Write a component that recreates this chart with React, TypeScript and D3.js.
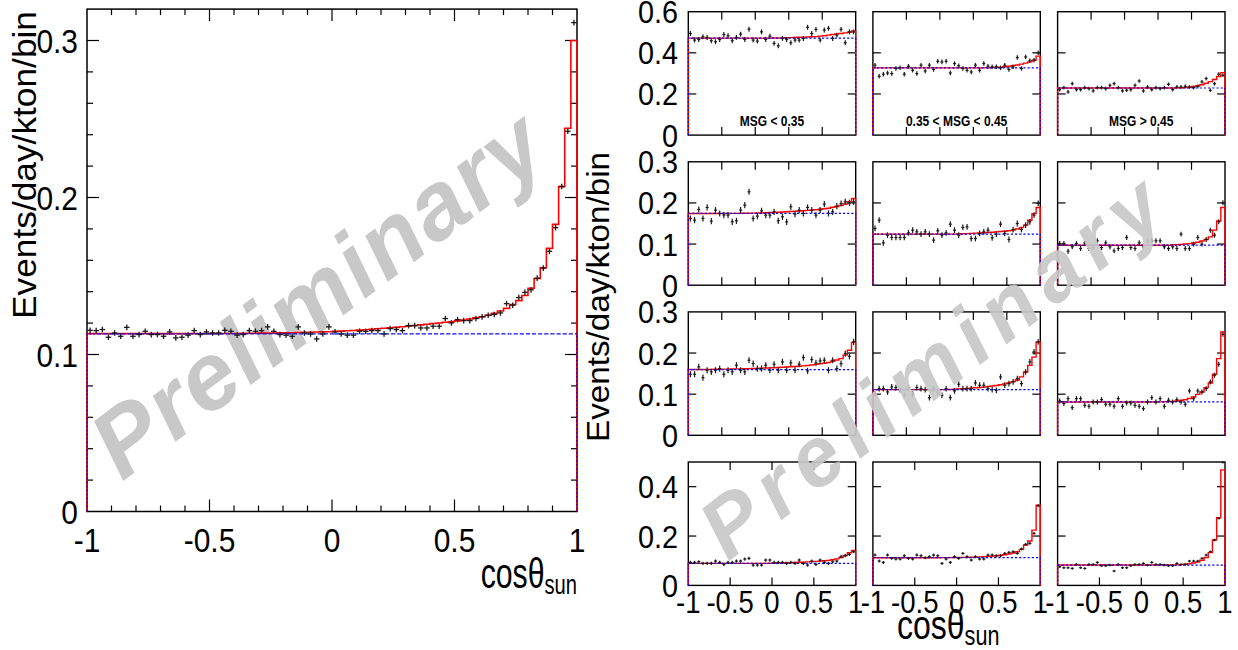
import React from 'react';
import * as d3 from 'd3';

// ---------- Main plot (80 bins, cos theta_sun from -1 to 1) ----------
const mainData = [
  0.1154, 0.1152, 0.1159, 0.1110, 0.1137, 0.1116, 0.1173, 0.1116, 0.1127, 0.1148,
  0.1127, 0.1127, 0.1116, 0.1144, 0.1106, 0.1110, 0.1123, 0.1152, 0.1127, 0.1144,
  0.1137, 0.1137, 0.1154, 0.1148, 0.1123, 0.1127, 0.1152, 0.1148, 0.1152, 0.1176,
  0.1148, 0.1127, 0.1123, 0.1116, 0.1176, 0.1137, 0.1131, 0.1099, 0.1131, 0.1176,
  0.1144, 0.1131, 0.1123, 0.1123, 0.1148, 0.1148, 0.1152, 0.1152, 0.1131, 0.1165,
  0.1159, 0.1152, 0.1184, 0.1184, 0.1169, 0.1169, 0.1180, 0.1180, 0.1229, 0.1201,
  0.1222, 0.1216, 0.1216, 0.1229, 0.1240, 0.1250, 0.1255, 0.1265, 0.1324, 0.1314,
  0.1363, 0.1396, 0.1412, 0.1486, 0.1550, 0.1657, 0.1808, 0.2070, 0.2422, 0.3114,
];
const mainFit = [
  0.1133, 0.1133, 0.1133, 0.1133, 0.1133, 0.1133, 0.1133, 0.1133, 0.1133, 0.1133,
  0.1133, 0.1133, 0.1133, 0.1133, 0.1133, 0.1133, 0.1133, 0.1133, 0.1133, 0.1133,
  0.1133, 0.1133, 0.1134, 0.1134, 0.1134, 0.1135, 0.1135, 0.1135, 0.1136, 0.1136,
  0.1137, 0.1138, 0.1138, 0.1139, 0.1140, 0.1141, 0.1142, 0.1143, 0.1144, 0.1145,
  0.1147, 0.1149, 0.1151, 0.1153, 0.1155, 0.1158, 0.1161, 0.1164, 0.1167, 0.1170,
  0.1173, 0.1177, 0.1181, 0.1185, 0.1189, 0.1193, 0.1197, 0.1201, 0.1205, 0.1209,
  0.1214, 0.1220, 0.1226, 0.1233, 0.1240, 0.1250, 0.1262, 0.1277, 0.1294, 0.1318,
  0.1343, 0.1376, 0.1422, 0.1484, 0.1553, 0.1676, 0.1829, 0.2069, 0.2441, 0.3000,
];
const mainBackground = 0.1131;
const mainYTicks = [0, 0.1, 0.2, 0.3];
const mainXTicks = [-1, -0.5, 0, 0.5, 1];
const mainXTickLabels = ['-1', '-0.5', '0', '0.5', '1'];
const mainYTickLabels = ['0', '0.1', '0.2', '0.3'];

// ---------- 4 x 3 panels (40 bins each) ----------
const p11Data = [0.494, 0.462, 0.465, 0.478, 0.475, 0.459, 0.454, 0.465, 0.489, 0.483, 0.459, 0.475, 0.491, 0.465, 0.515, 0.462, 0.457, 0.502, 0.465, 0.481, 0.446, 0.434, 0.470, 0.465, 0.449, 0.462, 0.462, 0.470, 0.524, 0.494, 0.514, 0.462, 0.511, 0.519, 0.470, 0.486, 0.514, 0.449, 0.502, 0.502];
const p11Fit = [0.4715, 0.4715, 0.4715, 0.4715, 0.4715, 0.4715, 0.4715, 0.4715, 0.4715, 0.4715, 0.4715, 0.4715, 0.4715, 0.4715, 0.4715, 0.4715, 0.4715, 0.4715, 0.4715, 0.4715, 0.4718, 0.4722, 0.4727, 0.4733, 0.4740, 0.4748, 0.4756, 0.4764, 0.4772, 0.4780, 0.479, 0.481, 0.483, 0.486, 0.489, 0.492, 0.494, 0.497, 0.500, 0.507];
const p12Data = [0.340, 0.286, 0.296, 0.302, 0.299, 0.324, 0.328, 0.296, 0.335, 0.315, 0.299, 0.340, 0.312, 0.340, 0.319, 0.359, 0.356, 0.359, 0.302, 0.348, 0.337, 0.324, 0.315, 0.307, 0.340, 0.315, 0.348, 0.335, 0.332, 0.332, 0.327, 0.340, 0.319, 0.332, 0.377, 0.324, 0.380, 0.361, 0.364, 0.400];
const p12Fit = [0.327, 0.327, 0.327, 0.327, 0.327, 0.327, 0.327, 0.327, 0.327, 0.327, 0.327, 0.327, 0.327, 0.327, 0.327, 0.327, 0.327, 0.327, 0.327, 0.327, 0.327, 0.327, 0.327, 0.327, 0.327, 0.327, 0.327, 0.327, 0.328, 0.329, 0.330, 0.332, 0.335, 0.338, 0.341, 0.345, 0.350, 0.356, 0.364, 0.384];
const p13Data = [0.221, 0.231, 0.210, 0.250, 0.221, 0.221, 0.231, 0.226, 0.215, 0.231, 0.231, 0.226, 0.242, 0.250, 0.231, 0.215, 0.218, 0.221, 0.242, 0.263, 0.215, 0.234, 0.221, 0.231, 0.226, 0.231, 0.247, 0.221, 0.234, 0.234, 0.237, 0.234, 0.231, 0.237, 0.259, 0.275, 0.218, 0.250, 0.296, 0.291];
const p13Fit = [0.229, 0.229, 0.229, 0.229, 0.229, 0.229, 0.229, 0.229, 0.229, 0.229, 0.229, 0.229, 0.229, 0.229, 0.229, 0.229, 0.229, 0.229, 0.229, 0.229, 0.229, 0.229, 0.229, 0.229, 0.229, 0.229, 0.229, 0.229, 0.2295, 0.230, 0.231, 0.233, 0.236, 0.240, 0.245, 0.252, 0.260, 0.270, 0.285, 0.304];

const p21Data = [0.1622, 0.1582, 0.1841, 0.1622, 0.1890, 0.1557, 0.1825, 0.1744, 0.1703, 0.1703, 0.1541, 0.1565, 0.1825, 0.1946, 0.2271, 0.1622, 0.1679, 0.1809, 0.1703, 0.1703, 0.1784, 0.1565, 0.1663, 0.1541, 0.1906, 0.1727, 0.1825, 0.1744, 0.1890, 0.1825, 0.1703, 0.1825, 0.1971, 0.1744, 0.1784, 0.1922, 0.1987, 0.2028, 0.2003, 0.2028];
const p21Fit = [0.1744, 0.1744, 0.1744, 0.1744, 0.1744, 0.1744, 0.1744, 0.1744, 0.1744, 0.1744, 0.1745, 0.1746, 0.1747, 0.1749, 0.1751, 0.1753, 0.1756, 0.1759, 0.1762, 0.1766, 0.1770, 0.1774, 0.1779, 0.1784, 0.1790, 0.1796, 0.1803, 0.1810, 0.1818, 0.1826, 0.1835, 0.1845, 0.1857, 0.1870, 0.1895, 0.1915, 0.1940, 0.1975, 0.2030, 0.2109];
const p22Data = [0.1379, 0.1582, 0.1030, 0.1217, 0.1160, 0.1160, 0.1160, 0.1160, 0.1273, 0.1338, 0.1298, 0.1241, 0.1298, 0.1241, 0.1095, 0.1322, 0.1217, 0.1273, 0.1484, 0.1338, 0.1217, 0.1403, 0.1419, 0.1135, 0.1135, 0.1257, 0.1298, 0.1338, 0.1152, 0.1241, 0.1484, 0.1257, 0.1111, 0.1354, 0.1500, 0.1354, 0.1460, 0.1541, 0.1703, 0.1987];
const p22Fit = [0.1241, 0.1241, 0.1241, 0.1241, 0.1241, 0.1241, 0.1241, 0.1241, 0.1241, 0.1241, 0.1241, 0.1241, 0.1241, 0.1241, 0.1241, 0.1241, 0.1241, 0.1241, 0.1241, 0.1241, 0.1245, 0.1250, 0.1255, 0.1260, 0.1265, 0.1270, 0.1276, 0.1282, 0.1289, 0.1296, 0.1304, 0.1313, 0.1323, 0.1340, 0.1365, 0.1400, 0.1460, 0.1580, 0.1740, 0.1890];
const p23Data = [0.1014, 0.1014, 0.0827, 0.0933, 0.1014, 0.0892, 0.1030, 0.0892, 0.0916, 0.1079, 0.0916, 0.1030, 0.0933, 0.0835, 0.0892, 0.0916, 0.1160, 0.0916, 0.0892, 0.1030, 0.0933, 0.1079, 0.1079, 0.1079, 0.1079, 0.0933, 0.0892, 0.0933, 0.0892, 0.1241, 0.0892, 0.0892, 0.0998, 0.1160, 0.0998, 0.1111, 0.1338, 0.1217, 0.1541, 0.2003];
const p23Fit = [0.0973, 0.0973, 0.0973, 0.0973, 0.0973, 0.0973, 0.0973, 0.0973, 0.0973, 0.0973, 0.0973, 0.0973, 0.0973, 0.0973, 0.0973, 0.0973, 0.0973, 0.0973, 0.0973, 0.0973, 0.0973, 0.0973, 0.0973, 0.0973, 0.0973, 0.0973, 0.0973, 0.0980, 0.0985, 0.0990, 0.1000, 0.1010, 0.1025, 0.1045, 0.1075, 0.1110, 0.1175, 0.1340, 0.1560, 0.1890];

const p31Data = [0.1484, 0.1484, 0.1663, 0.1403, 0.1582, 0.1541, 0.1582, 0.1622, 0.1484, 0.1582, 0.1541, 0.1703, 0.1582, 0.1541, 0.1825, 0.1744, 0.1622, 0.1622, 0.1703, 0.1582, 0.1727, 0.1582, 0.1784, 0.1582, 0.1760, 0.1582, 0.1727, 0.1890, 0.1565, 0.1841, 0.1760, 0.1809, 0.1825, 0.1582, 0.1825, 0.1622, 0.1744, 0.1987, 0.1922, 0.2271];
const p31Fit = [0.1598, 0.1599, 0.1600, 0.1601, 0.1602, 0.1603, 0.1604, 0.1606, 0.1608, 0.1610, 0.1612, 0.1614, 0.1616, 0.1619, 0.1622, 0.1625, 0.1628, 0.1632, 0.1636, 0.1640, 0.1644, 0.1649, 0.1654, 0.1659, 0.1665, 0.1671, 0.1678, 0.1688, 0.1698, 0.1710, 0.1725, 0.1738, 0.1752, 0.1770, 0.1800, 0.1830, 0.1865, 0.1950, 0.2068, 0.2260];
const p32Data = [0.0998, 0.1135, 0.1135, 0.1054, 0.1176, 0.1160, 0.1111, 0.0973, 0.1160, 0.0998, 0.1160, 0.1135, 0.1111, 0.0916, 0.1135, 0.1030, 0.0973, 0.1135, 0.0916, 0.1079, 0.1241, 0.1135, 0.1135, 0.1135, 0.1273, 0.1217, 0.1217, 0.1135, 0.1111, 0.1095, 0.1419, 0.1217, 0.1257, 0.1298, 0.1379, 0.1257, 0.1541, 0.1784, 0.2028, 0.2271];
const p32Fit = [0.1111, 0.1111, 0.1111, 0.1111, 0.1111, 0.1111, 0.1111, 0.1111, 0.1111, 0.1111, 0.1111, 0.1111, 0.1111, 0.1111, 0.1111, 0.1111, 0.1111, 0.1111, 0.1115, 0.1120, 0.1125, 0.1132, 0.1140, 0.1147, 0.1155, 0.1163, 0.1172, 0.1183, 0.1197, 0.1212, 0.1230, 0.1250, 0.1275, 0.1305, 0.1345, 0.1420, 0.1540, 0.1700, 0.1900, 0.2270];
const p33Data = [0.0835, 0.0771, 0.0892, 0.0673, 0.0892, 0.0892, 0.0730, 0.0706, 0.0811, 0.0811, 0.0868, 0.0754, 0.0754, 0.0706, 0.0892, 0.0706, 0.0787, 0.0787, 0.0730, 0.0706, 0.0649, 0.0811, 0.0916, 0.0811, 0.0892, 0.0706, 0.0852, 0.0811, 0.0868, 0.0811, 0.0754, 0.1079, 0.0892, 0.1079, 0.1054, 0.1135, 0.1298, 0.1460, 0.1727, 0.2457];
const p33Fit = [0.0811, 0.0811, 0.0811, 0.0811, 0.0811, 0.0811, 0.0811, 0.0811, 0.0811, 0.0811, 0.0811, 0.0811, 0.0811, 0.0811, 0.0811, 0.0811, 0.0811, 0.0811, 0.0811, 0.0811, 0.0811, 0.0811, 0.0811, 0.0811, 0.0812, 0.0814, 0.0818, 0.0825, 0.0835, 0.0848, 0.0865, 0.0895, 0.0930, 0.0995, 0.1054, 0.1160, 0.1273, 0.1484, 0.1865, 0.2514];

const p41Data = [0.0932, 0.0932, 0.0959, 0.0892, 0.0892, 0.0892, 0.0986, 0.0932, 0.0851, 0.0932, 0.0932, 0.0986, 0.0986, 0.1068, 0.1095, 0.0824, 0.0824, 0.0824, 0.1027, 0.1027, 0.0932, 0.0932, 0.0932, 0.0892, 0.0932, 0.0892, 0.1027, 0.0892, 0.0824, 0.0986, 0.0851, 0.1027, 0.0932, 0.0892, 0.0959, 0.0986, 0.1162, 0.1203, 0.1257, 0.1365];
const p41Fit = [0.0892, 0.0892, 0.0892, 0.0892, 0.0892, 0.0892, 0.0892, 0.0892, 0.0892, 0.0892, 0.0892, 0.0892, 0.0892, 0.0892, 0.0892, 0.0892, 0.0892, 0.0892, 0.0894, 0.0897, 0.0900, 0.0905, 0.0910, 0.0916, 0.0922, 0.0930, 0.0937, 0.0945, 0.0953, 0.0962, 0.0972, 0.0984, 0.0998, 0.1015, 0.1040, 0.1075, 0.1130, 0.1210, 0.1320, 0.1420];
const p42Data = [0.1230, 0.0986, 0.0932, 0.1230, 0.1095, 0.1068, 0.1068, 0.1203, 0.1095, 0.1068, 0.1230, 0.1203, 0.1122, 0.1162, 0.1230, 0.1203, 0.0892, 0.1068, 0.0932, 0.1162, 0.1095, 0.1297, 0.1162, 0.1027, 0.1162, 0.1068, 0.1068, 0.1230, 0.1230, 0.1203, 0.1203, 0.1297, 0.1338, 0.1365, 0.1297, 0.1473, 0.1662, 0.1703, 0.2108, 0.3230];
const p42Fit = [0.1122, 0.1122, 0.1122, 0.1122, 0.1122, 0.1122, 0.1122, 0.1122, 0.1122, 0.1122, 0.1122, 0.1122, 0.1122, 0.1122, 0.1122, 0.1123, 0.1124, 0.1125, 0.1127, 0.1129, 0.1131, 0.1134, 0.1137, 0.1141, 0.1145, 0.1155, 0.1165, 0.1175, 0.1188, 0.1203, 0.1220, 0.1243, 0.1270, 0.1310, 0.1365, 0.1460, 0.1635, 0.1800, 0.2240, 0.3250];
const p43Data = [0.0757, 0.0716, 0.0716, 0.0689, 0.0851, 0.0716, 0.0689, 0.0851, 0.0851, 0.0932, 0.0797, 0.0797, 0.0824, 0.0581, 0.0851, 0.0716, 0.0716, 0.0797, 0.0851, 0.0851, 0.0892, 0.0824, 0.0932, 0.0851, 0.0851, 0.0824, 0.0797, 0.0797, 0.0892, 0.0851, 0.0851, 0.0986, 0.0986, 0.0986, 0.1095, 0.1230, 0.1365, 0.1838, 0.2716, 0.4986];
const p43Fit = [0.0824, 0.0824, 0.0824, 0.0824, 0.0824, 0.0824, 0.0824, 0.0824, 0.0824, 0.0824, 0.0824, 0.0824, 0.0824, 0.0824, 0.0824, 0.0824, 0.0824, 0.0824, 0.0824, 0.0824, 0.0824, 0.0824, 0.0824, 0.0824, 0.0824, 0.0824, 0.0824, 0.0824, 0.0832, 0.0842, 0.0856, 0.0876, 0.0905, 0.0950, 0.1020, 0.1130, 0.1330, 0.1840, 0.2740, 0.4680];

const panelBackgrounds = [
  [0.4715, 0.327, 0.229],
  [0.1744, 0.1241, 0.0973],
  [0.1598, 0.1111, 0.0811],
  [0.0892, 0.1122, 0.0824],
];
const panelErrors = [
  [0.012, 0.011, 0.009],
  [0.0075, 0.007, 0.006],
  [0.0075, 0.007, 0.006],
  [0.0065, 0.006, 0.005],
];
const rowYMax = [0.6, 0.3, 0.3, 0.5];
const rowYTicks = [[0.2, 0.4], [0.1, 0.2], [0.1, 0.2], [0.2, 0.4]];
const rowYTickLabels = [
  [[0, '0'], [0.2, '0.2'], [0.4, '0.4'], [0.6, '0.6']],
  [[0, '0'], [0.1, '0.1'], [0.2, '0.2'], [0.3, '0.3']],
  [[0, '0'], [0.1, '0.1'], [0.2, '0.2'], [0.3, '0.3']],
  [[0, '0'], [0.2, '0.2'], [0.4, '0.4']],
];
const upperXTicks = [-0.6, -0.2, 0.2, 0.6];
const lowerXTicks = [-0.5, 0, 0.5];
const panelXTickLabels = ['-1', '-0.5', '0', '0.5', '1'];
const panelXTickValues = [-1, -0.5, 0, 0.5, 1];
const msgLabels = ['MSG < 0.35', '0.35 < MSG < 0.45', 'MSG > 0.45'];

const panelGrid = [
  [[p11Data, p11Fit], [p12Data, p12Fit], [p13Data, p13Fit]],
  [[p21Data, p21Fit], [p22Data, p22Fit], [p23Data, p23Fit]],
  [[p31Data, p31Fit], [p32Data, p32Fit], [p33Data, p33Fit]],
  [[p41Data, p41Fit], [p42Data, p42Fit], [p43Data, p43Fit]],
];

// ---------- layout ----------
const FONT = "'Liberation Sans', Arial, Helvetica, sans-serif";
const MAIN = { x0: 87, x1: 577, y0: 9.1, y1: 511.5, yMax: 0.32 };
const COL_X = [688.3, 872.9, 1057.6];
const PANEL_W = 167.4;
const ROW_Y = [11.7, 161.8, 311.9, 462.0];
const PANEL_H = 123.4;

function SText(props: any) {
  const { x, y, size, anchor = 'start', weight = 'normal', children, sx = 0.88 } = props;
  return (
    <text transform={`translate(${x},${y}) scale(${sx},1)`} fontSize={size} textAnchor={anchor}
      fontFamily={FONT} fontWeight={weight} fill="#000">{children}</text>
  );
}

function histPath(values: number[], xs: any, ys: any) {
  const n = values.length;
  const edges = d3.range(n + 1).map((i) => -1 + (2 * i) / n);
  let d = `M${xs(-1)},${ys(0)}`;
  values.forEach((v, i) => {
    d += `L${xs(edges[i])},${ys(v)}L${xs(edges[i + 1])},${ys(v)}`;
  });
  d += `L${xs(1)},${ys(0)}`;
  return d;
}

function Hist(props: any) {
  const { x0, x1, y0, y1, yMax, data, fit, bkg, err, errX, fitWidth, crossWidth } = props;
  const xs = d3.scaleLinear().domain([-1, 1]).range([x0, x1]);
  const ys = d3.scaleLinear().domain([0, yMax]).range([y1, y0]);
  const n = data.length;
  const bw = 2 / n;
  const hw = errX * (xs(bw) - xs(0));
  const bkgVals = data.map(() => bkg);
  return (
    <g>
      <path d={histPath(fit, xs, ys)} fill="none" stroke="#ff0000" strokeWidth={fitWidth} />
      <path d={histPath(bkgVals, xs, ys)} fill="none" stroke="#0000ff" strokeWidth={1.2} strokeDasharray="2,2" />
      <g stroke="#1a1a1a" strokeWidth={crossWidth}>
        {data.map((v: number, i: number) => {
          const c = xs(-1 + (i + 0.5) * bw);
          const yt = Math.max(ys(v + err), y0);
          const yb = Math.min(ys(v - err), y1);
          return (
            <g key={i}>
              <line x1={c - hw} x2={c + hw} y1={ys(v)} y2={ys(v)} />
              <line x1={c} x2={c} y1={yt} y2={yb} />
            </g>
          );
        })}
      </g>
    </g>
  );
}

function MainPlot() {
  const { x0, x1, y0, y1, yMax } = MAIN;
  const xs = d3.scaleLinear().domain([-1, 1]).range([x0, x1]);
  const ys = d3.scaleLinear().domain([0, yMax]).range([y1, y0]);
  const xMinor = d3.range(-0.9, 1.0, 0.1).map((v) => Math.round(v * 10) / 10);
  const yMinor = d3.range(0.02, 0.32, 0.02).map((v) => Math.round(v * 100) / 100);
  return (
    <g>
      <rect x={x0} y={y0} width={x1 - x0} height={y1 - y0} fill="none" stroke="#000" strokeWidth={1.5} />
      <g stroke="#000" strokeWidth={1.2}>
        {xMinor.map((v) => {
          const major = Math.abs(v * 2 - Math.round(v * 2)) < 1e-6;
          const L = major ? 12 : 6;
          return (
            <g key={'x' + v}>
              <line x1={xs(v)} x2={xs(v)} y1={y1} y2={y1 - L} />
              <line x1={xs(v)} x2={xs(v)} y1={y0} y2={y0 + L} />
            </g>
          );
        })}
        {yMinor.map((v) => {
          const major = Math.abs(v * 10 - Math.round(v * 10)) < 1e-6;
          const L = major ? 12 : 6;
          return (
            <g key={'y' + v}>
              <line x1={x0} x2={x0 + L} y1={ys(v)} y2={ys(v)} />
              <line x1={x1} x2={x1 - L} y1={ys(v)} y2={ys(v)} />
            </g>
          );
        })}
      </g>
      <text transform={`translate(122,482) rotate(-37)`} fontSize={95} fontStyle="italic" fontWeight="bold"
        fontFamily={FONT} fill="#c8c8c8" textLength={538} lengthAdjust="spacing">Preliminary</text>
      <Hist x0={x0} x1={x1} y0={y0} y1={y1} yMax={yMax} data={mainData} fit={mainFit}
        bkg={mainBackground} err={0.0018} errX={0.45} fitWidth={1.6} crossWidth={1.3} />
      {mainYTicks.map((v, i) => (
        <SText key={'yl' + i} x={78} y={ys(v) + 12} size={34} anchor="end">{mainYTickLabels[i]}</SText>
      ))}
      {mainXTicks.map((v, i) => (
        <SText key={'xl' + i} x={xs(v)} y={552} size={34} anchor="middle">{mainXTickLabels[i]}</SText>
      ))}
      <text transform="translate(36,11) rotate(-90) scale(1,0.9)" fontSize={36} textAnchor="end"
        fontFamily={FONT} textLength={308} lengthAdjust="spacingAndGlyphs">Events/day/kton/bin</text>
      <SText x={577} y={588} size={42} anchor="end" sx={0.72}>
        cosθ<tspan fontSize={28} dy={6}>sun</tspan>
      </SText>
    </g>
  );
}

function Panels() {
  return (
    <g>
      {panelGrid.map((row, r) =>
        row.map(([data, fit], c) => {
          const x0 = COL_X[c];
          const x1 = x0 + PANEL_W;
          const y0 = ROW_Y[r];
          const y1 = y0 + PANEL_H;
          const yMax = rowYMax[r];
          const xs = d3.scaleLinear().domain([-1, 1]).range([x0, x1]);
          const ys = d3.scaleLinear().domain([0, yMax]).range([y1, y0]);
          const xt = r === 3 ? lowerXTicks : upperXTicks;
          return (
            <g key={`p${r}${c}`}>
              <rect x={x0} y={y0} width={PANEL_W} height={PANEL_H} fill="none" stroke="#000" strokeWidth={1.4} />
              <g stroke="#000" strokeWidth={1.2}>
                {xt.map((v) => (
                  <g key={'x' + v}>
                    <line x1={xs(v)} x2={xs(v)} y1={y1} y2={y1 - 8} />
                    <line x1={xs(v)} x2={xs(v)} y1={y0} y2={y0 + 8} />
                  </g>
                ))}
                {rowYTicks[r].map((v) => (
                  <g key={'y' + v}>
                    <line x1={x0} x2={x0 + 8} y1={ys(v)} y2={ys(v)} />
                    <line x1={x1} x2={x1 - 8} y1={ys(v)} y2={ys(v)} />
                  </g>
                ))}
              </g>
              <Hist x0={x0} x1={x1} y0={y0} y1={y1} yMax={yMax} data={data} fit={fit}
                bkg={panelBackgrounds[r][c]} err={panelErrors[r][c]} errX={0.36} fitWidth={1.4} crossWidth={1.2} />
              {r === 0 && (
                <SText x={(x0 + x1) / 2} y={126} size={15} anchor="middle" weight="bold" sx={0.8}>{msgLabels[c]}</SText>
              )}
              {c === 0 && rowYTickLabels[r].map(([v, lab]: any, i: number) => (
                <SText key={'yl' + i} x={678} y={ys(v) + 11.5} size={32} anchor="end" sx={0.9}>{lab}</SText>
              ))}
              {r === 3 && panelXTickValues.map((v, i) => (
                <SText key={'xl' + i} x={xs(v)} y={613} size={32} anchor="middle" sx={0.86}>{panelXTickLabels[i]}</SText>
              ))}
            </g>
          );
        })
      )}
      <text transform="translate(609,297) rotate(-90) scale(1,0.92)" fontSize={34} textAnchor="middle"
        fontFamily={FONT} textLength={290} lengthAdjust="spacingAndGlyphs">Events/day/kton/bin</text>
      <SText x={897} y={639} size={40} sx={0.8}>
        cosθ<tspan fontSize={27} dy={6}>sun</tspan>
      </SText>
      <text transform={`translate(728,562) rotate(-38)`} fontSize={84} fontStyle="italic" fontWeight="bold"
        fontFamily={FONT} fill="#c8c8c8" fillOpacity={0.92} textLength={560} lengthAdjust="spacing">Preliminary</text>
    </g>
  );
}

export default function App() {
  return (
    <svg width={1238} height={650} style={{ position: 'absolute', left: 0, top: 0, background: '#fff' }}>
      <rect x={0} y={0} width={1238} height={650} fill="#fff" />
      <MainPlot />
      <Panels />
    </svg>
  );
}
